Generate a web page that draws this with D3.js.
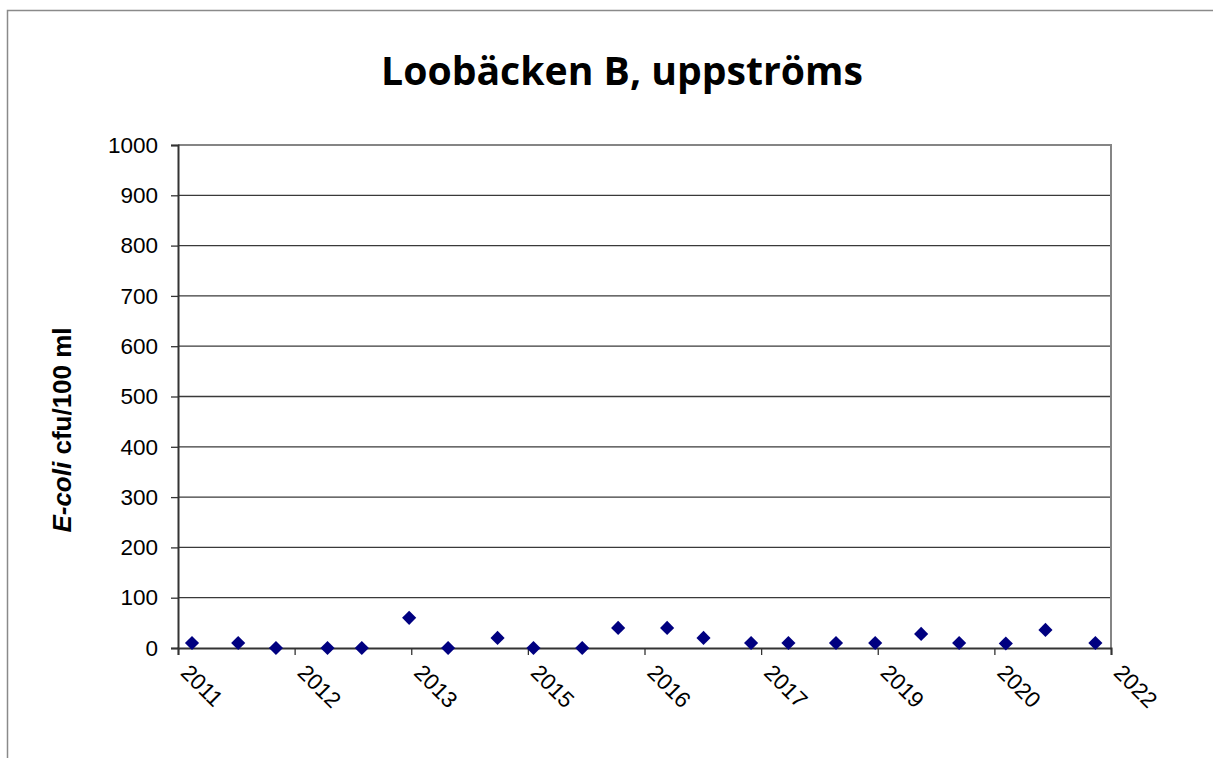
<!DOCTYPE html>
<html>
<head>
<meta charset="utf-8">
<script src="https://cdn.jsdelivr.net/npm/d3@7"></script>
<style>
  html, body { margin: 0; padding: 0; background: #fff; }
  svg { display: block; }
</style>
</head>
<body>
<svg id="chart" width="1213" height="758"></svg>
<script>
// sample dates and E. coli values (cfu/100 ml)
const sampleDates = [
  '2011-04-02', '2011-10-17', '2012-03-27', '2012-11-03', '2013-03-30',
  '2013-10-19', '2014-04-04', '2014-11-02', '2015-04-05', '2015-10-31',
  '2016-04-02', '2016-10-29', '2017-04-03', '2017-10-24', '2018-04-02',
  '2018-10-23', '2019-04-09', '2019-10-23', '2020-04-03', '2020-10-20',
  '2021-04-08', '2021-11-08'
];
const ecoliValues = [10, 10, 0, 0, 0, 60, 0, 20, 0, 0, 40, 40, 20, 10, 10, 10, 10, 28, 10, 9, 36, 10];

// date axis: starts 2011-02-01, a major tick every 500 days, 8 steps
const axisStart = '2011-02-01';
const tickStepDays = 500;
const tickCount = 8;
const yTicks = [0, 100, 200, 300, 400, 500, 600, 700, 800, 900, 1000];

const title = 'Loobäcken B, uppströms';

const margin = { left: 178, right: 1111, top: 145, bottom: 648 };
const parse = d3.timeParse('%Y-%m-%d');
const start = parse(axisStart);
const end = d3.timeDay.offset(start, tickStepDays * tickCount);
const xTickDates = d3.range(tickCount + 1).map(i => d3.timeDay.offset(start, tickStepDays * i));

const data = sampleDates.map((d, i) => ({ date: parse(d), value: ecoliValues[i] }));

const svg = d3.select('#chart');

const xScale = d3.scaleTime().domain([start, end]).range([margin.left, margin.right]);
const yScale = d3.scaleLinear().domain([0, 1000]).range([margin.bottom, margin.top]);

// outer chart border
svg.append('path')
  .attr('d', 'M7.5,758 V10.5 H1213')
  .attr('fill', 'none')
  .attr('stroke', '#8a8a8a')
  .attr('stroke-width', 1.5);

// title
const titleEl = svg.append('text')
  .attr('x', 622)
  .attr('y', 85)
  .attr('text-anchor', 'middle')
  .attr('font-family', '"Open Sans", "Noto Sans", sans-serif')
  .attr('font-weight', 'bold')
  .attr('font-size', 40)
  .attr('fill', '#000')
  .text(title);
const tw = titleEl.node().getComputedTextLength();
titleEl.attr('font-size', 40 * 482 / tw);

// gridlines
svg.append('g')
  .selectAll('line')
  .data(yTicks.filter(t => t > 0 && t < 1000))
  .join('line')
  .attr('x1', margin.left)
  .attr('x2', margin.right)
  .attr('y1', d => yScale(d))
  .attr('y2', d => yScale(d))
  .attr('stroke', '#3a3a3a')
  .attr('stroke-width', 1.3);

// plot area border (top, right)
svg.append('path')
  .attr('d', `M${margin.left},${margin.top} H${margin.right} V${margin.bottom}`)
  .attr('fill', 'none')
  .attr('stroke', '#858585')
  .attr('stroke-width', 2);

// y axis
const yAxis = svg.append('g')
  .attr('transform', `translate(${margin.left},0)`)
  .call(d3.axisLeft(yScale).tickValues(yTicks).tickSize(7).tickPadding(13).tickFormat(d3.format('d')));
yAxis.select('.domain').attr('stroke', '#333').attr('stroke-width', 2);
yAxis.selectAll('.tick line').attr('stroke', '#333').attr('stroke-width', 1.3);
yAxis.selectAll('.tick text')
  .attr('font-family', '"Liberation Sans", Arial, sans-serif')
  .attr('font-size', 22.5)
  .attr('fill', '#000');

// x axis
const xAxis = svg.append('g')
  .attr('transform', `translate(0,${margin.bottom})`)
  .call(d3.axisBottom(xScale).tickValues(xTickDates).tickSize(7).tickFormat(d3.timeFormat('%Y')));
xAxis.select('.domain').attr('stroke', '#333').attr('stroke-width', 2);
xAxis.selectAll('.tick line').attr('stroke', '#333').attr('stroke-width', 1.3);
xAxis.selectAll('.tick text')
  .attr('font-family', '"Liberation Sans", Arial, sans-serif')
  .attr('font-size', 22.5)
  .attr('fill', '#000')
  .attr('text-anchor', 'start')
  .attr('dy', null)
  .attr('y', 0)
  .attr('transform', 'translate(1,26) rotate(45)');

// y axis title
const yTitle = svg.append('text')
  .attr('transform', 'translate(71,430) rotate(-90)')
  .attr('text-anchor', 'middle')
  .attr('font-family', '"Liberation Sans", Arial, sans-serif')
  .attr('font-weight', 'bold')
  .attr('font-size', 26)
  .attr('fill', '#000');
yTitle.append('tspan').attr('font-style', 'italic').text('E-coli');
yTitle.append('tspan').text(' cfu/100 ml');

// markers
svg.append('g')
  .selectAll('path')
  .data(data)
  .join('path')
  .attr('d', d3.symbol().type(d3.symbolSquare).size(100))
  .attr('transform', d => `translate(${xScale(d.date)},${yScale(d.value)}) rotate(45)`)
  .attr('fill', '#000080');
</script>
</body>
</html>
